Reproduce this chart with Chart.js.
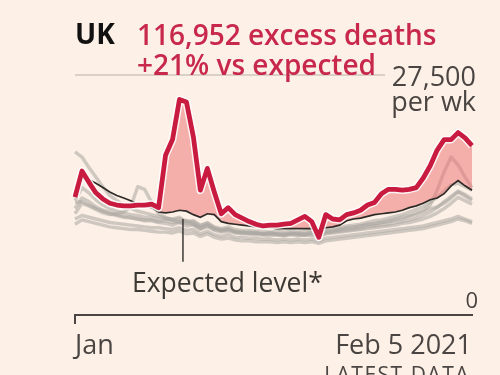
<!DOCTYPE html>
<html>
<head>
<meta charset="utf-8">
<script src="https://cdn.jsdelivr.net/npm/chart.js@4/dist/chart.umd.min.js"></script>
<style>
  html, body { margin: 0; padding: 0; background: #fdf1e7; }
  #wrap { position: relative; width: 500px; height: 375px; overflow: hidden; font-family: "Open Sans", sans-serif; }
  #wrap canvas { position: absolute; left: 0; top: 0; }
  .lbl { position: absolute; white-space: nowrap; line-height: 1; }
</style>
</head>
<body>
<div id="wrap">
  <canvas id="deaths" width="500" height="375"></canvas>
  <div class="lbl" style="left:75px;top:19px;font-size:28px;font-weight:700;color:#111;">UK</div>
  <div class="lbl" style="left:137px;top:20px;font-size:28px;font-weight:600;color:#c8284c;">116,952 excess deaths</div>
  <div class="lbl" style="left:137px;top:50px;font-size:28px;font-weight:600;color:#c8284c;">+21% vs expected</div>
  <div class="lbl" style="right:24px;top:62px;font-size:27px;color:#4a4542;text-align:right;">27,500</div>
  <div class="lbl" style="right:24px;top:87px;font-size:27px;color:#4a4542;text-align:right;">per wk</div>
  <div class="lbl" style="right:22px;top:288px;font-size:22px;color:#4a4542;text-align:right;">0</div>
  <div class="lbl" style="left:132px;top:269px;font-size:26.5px;color:#3d3935;">Expected level*</div>
  <div class="lbl" style="right:30px;top:364px;font-size:21px;color:#4a4542;letter-spacing:1.5px;">LATEST DATA</div>
</div>
<script>
// weekly deaths, UK, thousands per week (week ending)
var weeks = [
  "2020-01-03","2020-01-10","2020-01-17","2020-01-24","2020-01-31",
  "2020-02-07","2020-02-14","2020-02-21","2020-02-28",
  "2020-03-06","2020-03-13","2020-03-20","2020-03-27",
  "2020-04-03","2020-04-10","2020-04-17","2020-04-24",
  "2020-05-01","2020-05-08","2020-05-15","2020-05-22","2020-05-29",
  "2020-06-05","2020-06-12","2020-06-19","2020-06-26",
  "2020-07-03","2020-07-10","2020-07-17","2020-07-24","2020-07-31",
  "2020-08-07","2020-08-14","2020-08-21","2020-08-28",
  "2020-09-04","2020-09-11","2020-09-18","2020-09-25",
  "2020-10-02","2020-10-09","2020-10-16","2020-10-23","2020-10-30",
  "2020-11-06","2020-11-13","2020-11-20","2020-11-27",
  "2020-12-04","2020-12-11","2020-12-18","2020-12-25",
  "2021-01-01","2021-01-08","2021-01-15","2021-01-22","2021-01-29",
  "2021-02-05"
];
var xTickLabels = ["Jan", "Feb 5 2021"];
var yMax = 27.5;

var actual = [13.5,16.5,15.2,14.0,13.3,12.8,12.6,12.5,12.5,12.6,12.6,12.7,12.3,18.3,20.1,24.7,24.4,20.4,14.3,16.8,14.1,11.6,12.3,11.5,11.1,10.7,10.4,10.2,10.3,10.3,10.4,10.5,10.9,11.3,10.7,8.9,11.5,11.0,10.9,11.5,11.7,12.0,12.6,12.9,13.9,14.4,14.4,14.3,14.4,14.6,15.7,17.1,18.9,20.1,20.1,20.9,20.3,19.4];
var expected = [13.7,15.7,15.5,15.1,14.6,14.1,13.7,13.4,13.1,12.7,12.5,12.3,11.8,11.7,11.8,12.0,11.9,11.5,11.2,11.6,11.5,10.7,10.5,10.4,10.3,10.2,10.1,10.0,10.0,9.9,9.9,9.9,9.9,9.9,9.9,9.7,10.0,10.1,10.3,10.8,11.0,11.1,11.3,11.5,11.6,11.7,11.8,12.0,12.3,12.5,12.8,13.2,13.4,13.9,14.8,15.4,14.8,14.3];

// previous years, same weeks
var pastA = [18.7,18.1,16.9,15.8,14.7,13.7,13.1,12.6,12.2,11.9,11.7,11.5,11.3,11.1,11.0,11.2,10.6,10.8,10.3,10.5,10.0,9.8,9.9,9.6,9.5,9.5,9.4,9.3,9.4,9.3,9.3,9.4,9.3,9.2,9.4,9.3,9.5,9.6,9.8,9.9,10.0,10.2,10.3,10.4,10.6,10.7,10.9,11.0,11.3,11.5,11.8,12.2,12.4,12.8,13.4,14.1,13.6,13.1];
var pastB = [12.2,13.4,13.0,12.4,12.0,11.8,11.5,11.3,11.2,11.0,10.9,10.9,10.7,10.8,10.6,10.7,10.5,10.4,9.9,10.3,9.9,9.7,9.8,9.5,9.5,9.4,9.4,9.3,9.4,9.3,9.2,9.3,9.4,9.3,9.5,9.3,9.6,9.7,9.8,10.0,10.1,10.2,10.4,10.5,10.6,10.8,11.0,11.2,11.4,11.7,12.0,12.6,14.3,16.4,18.1,17.2,15.8,14.6];
var pastC = [11.6,12.8,12.5,12.1,11.7,11.5,11.6,11.8,12.4,14.7,14.4,12.9,11.6,11.2,10.9,10.6,10.8,10.4,10.0,10.3,9.8,9.6,9.8,9.5,9.4,9.3,9.4,9.2,9.3,9.2,9.1,9.3,9.2,9.1,9.3,9.0,9.4,9.5,9.6,9.7,9.8,9.9,10.1,10.2,10.3,10.4,10.6,10.7,10.9,11.1,11.4,11.8,12.3,13.0,13.6,14.2,13.8,13.3];
var pastD = [12.9,13.0,12.6,12.2,11.9,11.6,11.4,11.2,11.1,11.0,10.8,10.8,10.6,10.5,10.3,10.6,10.2,10.3,9.8,10.1,9.7,9.5,9.6,9.4,9.3,9.3,9.2,9.2,9.1,9.2,9.1,9.2,9.1,9.2,9.1,9.0,9.3,9.4,9.5,9.6,9.7,9.8,9.9,10.0,10.1,10.2,10.3,10.5,10.6,10.8,11.0,11.3,11.7,12.2,12.8,13.5,13.1,12.7];
var pastE = [11.0,11.4,11.2,11.0,10.8,10.6,10.5,10.4,10.3,10.2,10.1,10.0,10.0,9.9,9.8,10.0,9.7,9.8,9.3,9.6,9.2,9.0,9.2,8.9,8.9,8.8,8.8,8.7,8.7,8.6,8.7,8.6,8.7,8.6,8.7,8.5,8.8,8.9,9.0,9.1,9.2,9.3,9.4,9.5,9.6,9.7,9.8,9.9,10.0,10.1,10.2,10.4,10.6,10.8,11.0,11.3,11.0,10.7];
var pastF = [10.4,10.9,10.7,10.5,10.3,10.1,10.0,9.9,9.8,9.8,9.7,9.6,9.5,9.5,9.4,9.6,9.3,9.4,9.0,9.3,8.9,8.7,8.8,8.6,8.5,8.5,8.4,8.4,8.4,8.3,8.4,8.3,8.4,8.3,8.4,8.2,8.5,8.6,8.7,8.8,8.9,9.0,9.1,9.2,9.3,9.4,9.5,9.6,9.7,9.8,9.9,10.1,10.3,10.5,10.7,11.0,10.8,10.5];
var pastG = [13.1,14.6,14.0,13.2,12.6,12.2,11.9,11.7,11.5,11.4,11.2,11.2,11.0,11.0,10.9,11.0,10.8,10.7,10.2,10.6,10.1,9.9,10.1,9.8,9.7,9.7,9.6,9.6,9.5,9.6,9.5,9.6,9.5,9.6,9.7,9.5,9.8,9.9,10.0,10.2,10.3,10.4,10.6,10.8,10.9,11.1,11.3,11.5,11.8,12.1,12.4,12.9,13.5,14.2,14.9,15.1,14.7,14.3];
var pastYears = [pastA, pastB, pastC, pastD, pastE, pastF, pastG];

var gray = 'rgba(170,165,160,0.55)';
var datasets = [
  { data: actual, borderColor: '#c91a40', borderWidth: 4.8, borderJoinStyle: 'round', pointRadius: 0, tension: 0, fill: false },
  { data: actual, borderColor: 'rgba(255,255,255,0.85)', borderWidth: 7.8, borderJoinStyle: 'round', pointRadius: 0, tension: 0, fill: false },
  { data: expected, borderColor: '#2e2a27', borderWidth: 1.7, pointRadius: 0, tension: 0, fill: false },
  { data: actual, borderWidth: 0, borderColor: 'transparent', pointRadius: 0, tension: 0,
    fill: { target: 2, above: 'rgba(235,110,110,0.5)', below: 'transparent' } }
];
pastYears.forEach(function (yr) {
  datasets.push({ data: yr, borderColor: gray, borderWidth: 3.4, borderJoinStyle: 'round', pointRadius: 0, tension: 0, fill: false });
});

// top gridline and the "expected level" pointer
var extras = {
  id: 'extras',
  beforeDatasetsDraw: function (chart) {
    var c = chart.ctx, y = chart.scales.y;
    var py = y.getPixelForValue(yMax);
    c.save();
    c.strokeStyle = '#cfc5bd';
    c.lineWidth = 1.5;
    c.beginPath();
    c.moveTo(chart.chartArea.left, py);
    c.lineTo(385, py);
    c.stroke();
    c.restore();
  },
  afterDatasetsDraw: function (chart) {
    var c = chart.ctx, x = chart.scales.x, y = chart.scales.y;
    var px = x.getPixelForValue(15.5);
    c.save();
    c.strokeStyle = '#3d3935';
    c.lineWidth = 1.5;
    c.beginPath();
    c.moveTo(px, y.getPixelForValue(11.0));
    c.lineTo(px, y.getPixelForValue(6.1));
    c.stroke();
    c.restore();
  }
};

var ctx = document.getElementById("deaths").getContext("2d");
var myChart = new Chart(ctx, {
  type: 'line',
  data: { labels: weeks, datasets: datasets },
  options: {
    responsive: false,
    animation: false,
    events: [],
    layout: { padding: { left: 75, right: 28, top: 75, bottom: 0 } },
    plugins: { legend: { display: false }, tooltip: { enabled: false } },
    scales: {
      y: { display: false, min: 0, max: yMax },
      x: {
        afterFit: function (scale) { scale.height = 60; },
        border: { display: true, color: '#4a4542', width: 2 },
        grid: {
          drawOnChartArea: false,
          drawTicks: true,
          tickLength: 9,
          lineWidth: 2,
          color: function (c) { return (c.index === 0 || c.index === weeks.length - 1) ? '#4a4542' : 'transparent'; }
        },
        ticks: {
          autoSkip: false,
          maxRotation: 0,
          minRotation: 0,
          align: 'inner',
          padding: 6,
          color: '#4a4542',
          font: { family: 'Open Sans', size: 27 },
          callback: function (v, i) {
            if (i === 0) return xTickLabels[0];
            if (i === weeks.length - 1) return xTickLabels[1];
            return null;
          }
        }
      }
    }
  },
  plugins: [extras]
});
</script>
</body>
</html>
